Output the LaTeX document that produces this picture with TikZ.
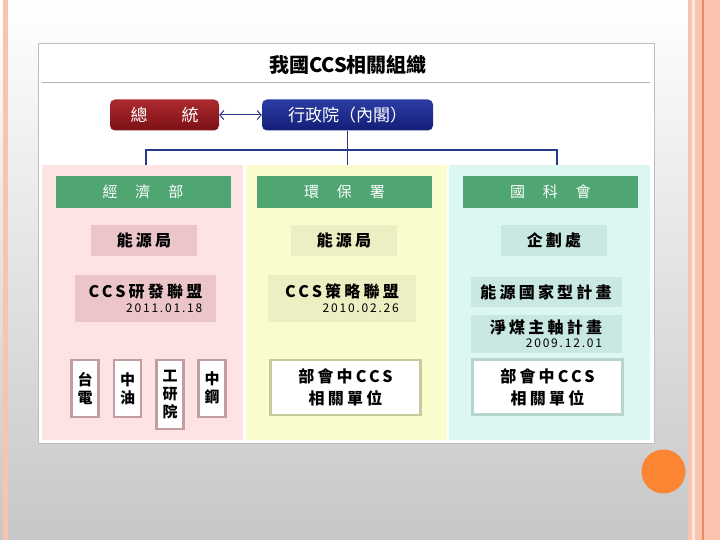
\documentclass[tikz,border=0pt]{standalone}
\usepackage{fontspec}
\setmainfont{Noto Sans CJK TC}
\newfontfamily\renggang[LetterSpace=20]{Noto Sans CJK TC}
\newfontfamily\rapat[LetterSpace=15]{Noto Sans CJK TC}
\usetikzlibrary{arrows.meta}

\definecolor{salem}{HTML}{F9C3AE}
\definecolor{salemmuda}{HTML}{FDE6DC}
\definecolor{garisoranye}{HTML}{E98A62}
\definecolor{oranye}{HTML}{FB8532}
\definecolor{merahatas}{HTML}{AC2A2E}
\definecolor{merahbawah}{HTML}{7C1116}
\definecolor{biruatas}{HTML}{2B3CA2}
\definecolor{birubawah}{HTML}{141E78}
\definecolor{birugaris}{HTML}{28398C}
\definecolor{hijau}{HTML}{50A672}
\definecolor{kolpink}{HTML}{FDE3E3}
\definecolor{kolkuning}{HTML}{FAFCCD}
\definecolor{koltosca}{HTML}{DCF6F1}
\definecolor{subpink}{HTML}{EBC5C7}
\definecolor{subkuning}{HTML}{EDEFC2}
\definecolor{subtosca}{HTML}{C9E8E2}
\definecolor{tepipink}{HTML}{C29DA1}
\definecolor{tepikuning}{HTML}{C9CA9C}
\definecolor{tepitosca}{HTML}{B7D5CF}

\begin{document}
\begin{tikzpicture}[x=1pt,y=-1pt,
    utama/.style={rounded corners=5pt,minimum height=31,inner sep=0pt,
      text=white,font=\fontsize{17}{19}\selectfont},
    kolom/.style={minimum width=201,minimum height=275,inner sep=0pt},
    kepala/.style={fill=hijau,minimum width=175,minimum height=32,
      inner sep=0pt,text=white,font=\fontsize{15}{17}\selectfont},
    sub/.style={minimum width=106,minimum height=31,inner sep=0pt,
      font=\fontsize{16}{18}\selectfont\bfseries\renggang},
    aliansi/.style={align=right,inner sep=0pt,
      font=\fontsize{16}{18}\selectfont\bfseries\renggang},
    putih/.style={fill=white,line width=2.5pt,minimum width=150,
      minimum height=55,inner sep=0pt,align=center,
      font=\fontsize{16}{22}\selectfont\bfseries\renggang},
    kecil/.style={draw=tepipink,fill=white,line width=2.5pt,anchor=north,
      minimum width=27,inner sep=0pt,align=center,
      font=\fontsize{15}{18}\selectfont\bfseries},
    garis/.style={draw=birugaris,line width=1.5pt},
    panah/.style={<->,>={Straight Barb[length=4pt,width=9pt]},
      draw=birugaris,line width=1pt}]

    \useasboundingbox (0,0) rectangle (720,540);

    % Latar slide
    \shade[top color=white,middle color=black!5,bottom color=black!22]
      (0,0) rectangle (720,540);
    \fill[salem] (3,0) rectangle (8,540);
    \fill[salem] (688,0) rectangle (692,540);
    \fill[salemmuda] (692,0) rectangle (695,540);
    \fill[salem] (695,0) rectangle (720,540);
    \fill[garisoranye] (702,0) rectangle (703.5,540);
    \fill[oranye] (663.5,471.5) circle (22);

    % Bingkai gambar dan judul
    \draw[black!25,fill=white] (38,43) rectangle (654,443);
    \node[font=\fontsize{20}{22}\selectfont\bfseries] (judul) at (348,65)
      {我國CCS相關組織};
    \draw[black!30] (42,82) -- (650,82);

    % Puncak
    \node[utama,minimum width=109,top color=merahatas,bottom color=merahbawah]
      (presiden) at (164.5,115) {總\hspace{2em}統};
    \node[utama,minimum width=171,top color=biruatas,bottom color=birubawah]
      (kabinet) at (347.5,115) {行政院（內閣）};
    \draw[panah] (presiden.east) -- (kabinet.west);

    % Tiga kolom
    \node[kolom,fill=kolpink] (kol1) at (142.5,302.5) {};
    \node[kolom,fill=kolkuning] (kol2) at (346,302.5) {};
    \node[kolom,fill=koltosca] (kol3) at (549.5,302.5) {};

    % Garis cabang
    \coordinate (bus) at (345,150);
    \coordinate (t1) at (146,165);
    \coordinate (t3) at (557,165);
    \draw[garis] (kabinet.south) -- (kabinet.south |- kol2.north);
    \draw[garis] (t1) |- (bus) -| (t3);

    % Kepala kolom
    \node[kepala] (moea) at (143,192) {經\hspace{1.2em}濟\hspace{1.2em}部};
    \node[kepala] (epa) at (344.5,192) {環\hspace{1.2em}保\hspace{1.2em}署};
    \node[kepala] (nsc) at (550.5,192) {國\hspace{1.2em}科\hspace{1.2em}會};

    % Unit di bawah kepala
    \node[sub,fill=subpink] (boe1) at (144,240.5) {能源局};
    \node[sub,fill=subkuning] (boe2) at (344,240.5) {能源局};
    \node[sub,fill=subtosca] (dp) at (554,240.5) {企劃處};

    % Aliansi dan program
    \node[aliansi,fill=subpink,minimum width=141,minimum height=47] (rd)
      at (145.5,298.5)
      {CCS研發聯盟\\[-3pt]{\fontsize{12}{13}\selectfont\mdseries\rapat 2011.01.18}};
    \node[aliansi,fill=subkuning,minimum width=148,minimum height=47] (st)
      at (342,298.5)
      {CCS策略聯盟\\[-3pt]{\fontsize{12}{13}\selectfont\mdseries\rapat 2010.02.26}};
    \node[aliansi,fill=subtosca,minimum width=151,minimum height=30] (np)
      at (546,292) {能源國家型計畫};
    \node[aliansi,fill=subtosca,minimum width=151,minimum height=38] (cc)
      at (546,334)
      {淨煤主軸計畫\\[-4pt]{\fontsize{12}{13}\selectfont\mdseries\rapat 2009.12.01}};

    % Satuan terkait
    \node[putih,draw=tepikuning] (unit2) at (345.5,387.5) {部會中CCS\\相關單位};
    \node[putih,draw=tepitosca] (unit3) at (547.5,387) {部會中CCS\\相關單位};

    % Lembaga di bawah MOEA
    \node[kecil,minimum height=57] (tpc) at (85,358.5) {台\\電};
    \node[kecil,minimum height=57] (cpc) at (127.5,358.5) {中\\油};
    \node[kecil,minimum height=69] (itri) at (170,358.5) {工\\研\\院};
    \node[kecil,minimum height=57] (csc) at (212,358.5) {中\\鋼};
  \end{tikzpicture}
\end{document}
